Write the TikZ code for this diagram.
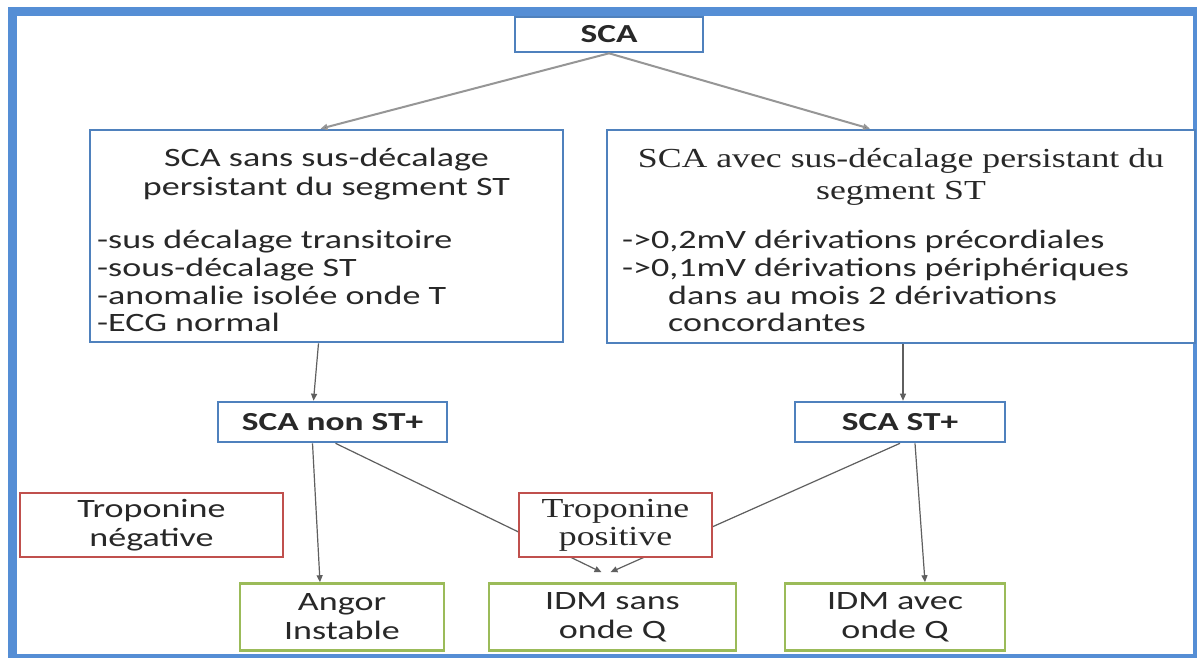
\documentclass[tikz,border=0pt]{standalone}
\usepackage{fontspec}
\setmainfont{Liberation Serif}
\newfontfamily\bodysans[FakeStretch=1.36]{Carlito}
\newfontfamily\bodyserif[FakeStretch=1.3]{Liberation Serif}
\usetikzlibrary{arrows.meta,calc}

\definecolor{framebl}{RGB}{85,142,213}
\definecolor{boxbl}{RGB}{79,129,189}
\definecolor{boxred}{RGB}{192,80,77}
\definecolor{boxgrn}{RGB}{155,187,89}
\definecolor{ink}{RGB}{40,40,40}
\definecolor{wire}{RGB}{95,95,95}
\definecolor{wirelt}{RGB}{150,150,150}

\tikzset{
  panel/.style={draw, line width=2.6pt, fill=white, inner sep=0pt, text=ink},
  bluebox/.style={panel, draw=boxbl},
  redbox/.style={panel, draw=boxred},
  grnbox/.style={panel, draw=boxgrn},
  sanstxt/.style={font=\bodysans\fontsize{26.5}{29}\selectfont, align=center},
  seriftxt/.style={font=\bodyserif\fontsize{27.5}{28}\selectfont, align=center},
  boldtxt/.style={font=\bodysans\bfseries\fontsize{26}{29}\selectfont},
  linetxt/.style={text=ink, inner sep=0pt, anchor=base west},
  titletxt/.style={text=ink, inner sep=0pt, anchor=base},
  link/.style={draw=wire, line width=1.2pt, -{Triangle[length=7pt,width=6pt]}},
  linkfat/.style={draw=wirelt, line width=2pt, -{Triangle[length=7pt,width=6pt,fill=black]}},
  sansbody/.style={font=\bodysans\fontsize{26.5}{29}\selectfont},
  serifbody/.style={font=\bodyserif\fontsize{27.5}{29}\selectfont}
}

\begin{document}
\begin{tikzpicture}[x=1pt, y=-1pt]
\useasboundingbox (0,0) rectangle (1199,659);
% outer frame
\fill[framebl] (8,7) rectangle (1197,658);
\fill[white] (17,16) rectangle (1193,654);

% top node
\node[bluebox, minimum width=188pt, minimum height=35pt, boldtxt] (sca) at (609,34.5) {SCA};

% two big boxes
\node[bluebox, minimum width=473pt, minimum height=212pt] (left) at (326.5,236) {};
\node[bluebox, minimum width=588pt, minimum height=213pt] (right) at (901,236.5) {};

% left box text
\begin{scope}[sansbody]
\node[titletxt] (lt1) at (326.5,166) {SCA sans sus-décalage};
\node[titletxt] (lt2) at (326.5,195) {persistant du segment ST};
\node[linetxt] (lb1) at (97,248) {-sus décalage transitoire};
\node[linetxt] (lb2) at (97,276) {-sous-décalage ST};
\node[linetxt] (lb3) at (97,304) {-anomalie isolée onde T};
\node[linetxt] (lb4) at (97,331) {-ECG normal};
\end{scope}

% right box text
\begin{scope}[serifbody]
\node[titletxt] (rt1) at (901,167) {SCA avec sus-décalage persistant du};
\node[titletxt] (rt2) at (901,199) {segment ST};
\end{scope}
\begin{scope}[sansbody]
\node[linetxt] (rb1) at (622,248) {->0,2mV dérivations précordiales};
\node[linetxt] (rb2) at (622,276) {->0,1mV dérivations périphériques};
\node[linetxt] (rb3) at (668,304) {dans au mois 2 dérivations};
\node[linetxt] (rb4) at (668,331) {concordantes};
\end{scope}

% middle level
\node[bluebox, minimum width=229pt, minimum height=40pt, boldtxt] (nst) at (332.5,422) {SCA non ST+};
\node[bluebox, minimum width=210pt, minimum height=40pt, boldtxt] (st) at (900,422) {SCA ST+};

% outcomes
\node[grnbox, minimum width=204pt, minimum height=67pt, sanstxt] (angor) at (342,617) {Angor\\Instable};
\node[grnbox, minimum width=247pt, minimum height=67pt, sanstxt] (idms) at (612.5,617) {IDM sans\\onde Q};
\node[grnbox, minimum width=220pt, minimum height=67pt, sanstxt] (idma) at (895,617) {IDM avec\\onde Q};

% arrows between levels
\draw[linkfat] (sca.south) -- ($(left.north)+(-6,0)$);
\draw[linkfat] (sca.south) -- ($(right.north)+(-31,0)$);
\draw[link] ($(left.south)+(-8,0)$) -- ($(nst.north)+(-19,0)$);
\draw[link] ($(right.south)+(2,0)$) -- ($(st.north)+(3,0)$);
\draw[link] ($(nst.south)+(-20,0)$) -- ($(angor.north)+(-22,0)$);
\draw[link] ($(st.south)+(15,0)$) -- ($(idma.north)+(30,0)$);
\draw[link] ($(nst.south)+(3,0)$) -- ($(idms.north)+(-11,-10)$);
\draw[link] ($(st.south)+(0,0)$) -- ($(idms.north)+(-2,-10)$);

% troponine labels (drawn over the links)
\node[redbox, minimum width=263pt, minimum height=64pt, sanstxt] (tneg) at (151.5,525) {Troponine\\négative};
\node[redbox, minimum width=193pt, minimum height=64pt, seriftxt] (tpos) at (615.5,525) {Troponine\\positive};
\end{tikzpicture}
\end{document}
